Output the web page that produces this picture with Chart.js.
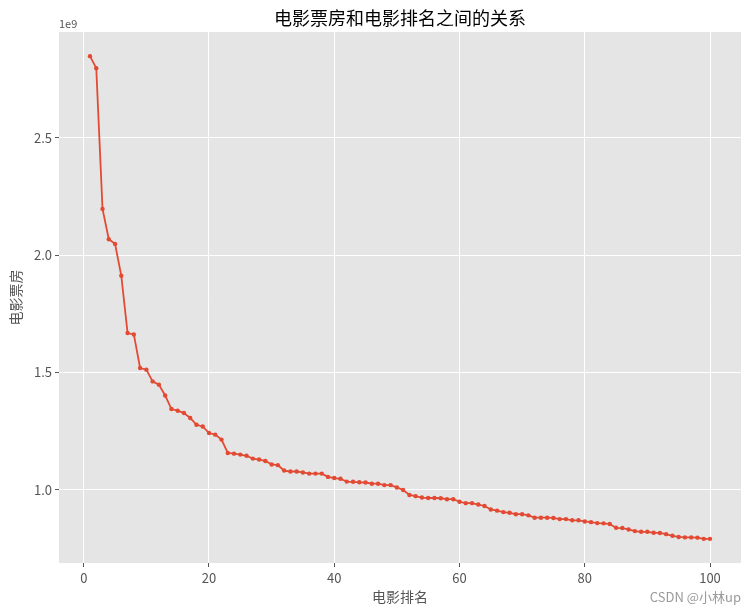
<!DOCTYPE html>
<html>
<head>
<meta charset="utf-8">
<script src="https://cdn.jsdelivr.net/npm/chart.js@4"></script>
<style>
  html, body { margin: 0; padding: 0; background: #fff; }
  #wrap { width: 748px; height: 612px; }
</style>
</head>
<body>
<div id="wrap"><canvas id="boxChart" width="748" height="612"></canvas></div>
<script>
// movie rank 1..100
const ranks = Array.from({ length: 100 }, (_, i) => i + 1);

// box office, in units of 1e9
const boxOffice = [
  2.848, 2.797, 2.197, 2.068, 2.048, 1.912, 1.668, 1.662, 1.519, 1.512,
  1.462, 1.448, 1.402, 1.344, 1.337, 1.327, 1.306, 1.277, 1.270, 1.242,
  1.235, 1.214, 1.157, 1.154, 1.150, 1.145, 1.133, 1.129, 1.123, 1.108,
  1.105, 1.082, 1.078, 1.078, 1.074, 1.069, 1.069, 1.069, 1.055, 1.050,
  1.047, 1.035, 1.034, 1.032, 1.031, 1.026, 1.026, 1.020, 1.020, 1.010,
  0.999, 0.978, 0.973, 0.967, 0.965, 0.965, 0.964, 0.960, 0.960, 0.949,
  0.943, 0.943, 0.937, 0.931, 0.916, 0.911, 0.905, 0.902, 0.896, 0.896,
  0.891, 0.881, 0.881, 0.881, 0.880, 0.875, 0.875, 0.870, 0.870, 0.865,
  0.862, 0.858, 0.857, 0.854, 0.838, 0.837, 0.831, 0.824, 0.821, 0.821,
  0.817, 0.816, 0.811, 0.804, 0.799, 0.797, 0.797, 0.796, 0.791, 0.791
];

const xTicks = [0, 20, 40, 60, 80, 100];
const yTicks = [1.0, 1.5, 2.0, 2.5];

const FONT = "'Noto Sans CJK SC', 'Noto Sans', sans-serif";

// gray panel + extra texts
const ggplotDecor = {
  id: "ggplotDecor",
  beforeDraw(chart) {
    const { ctx, chartArea: a } = chart;
    ctx.save();
    ctx.fillStyle = "#E5E5E5";
    ctx.fillRect(a.left, a.top, a.right - a.left, a.bottom - a.top);
    ctx.restore();
  },
  afterDraw(chart) {
    const { ctx, chartArea: a } = chart;
    const cx = (a.left + a.right) / 2;
    const cy = (a.top + a.bottom) / 2;
    ctx.save();
    ctx.textAlign = "center";
    ctx.textBaseline = "middle";

    ctx.fillStyle = "#000";
    ctx.font = "18px " + FONT;
    ctx.fillText("电影票房和电影排名之间的关系", cx, 18);

    ctx.fillStyle = "#555";
    ctx.font = "14px " + FONT;
    ctx.fillText("电影排名", cx, 597);

    ctx.save();
    ctx.translate(16, cy);
    ctx.rotate(-Math.PI / 2);
    ctx.fillText("电影票房", 0, 0);
    ctx.restore();

    ctx.font = "11px " + FONT;
    ctx.textAlign = "left";
    ctx.fillText("1e9", a.left, 24);

    ctx.fillStyle = "#999";
    ctx.font = "13px " + FONT;
    ctx.textAlign = "right";
    ctx.fillText("CSDN @小林up", 741, 597);
    ctx.restore();
  }
};

new Chart(document.getElementById("boxChart"), {
  type: "line",
  data: {
    labels: ranks,
    datasets: [{
      data: ranks.map((r, i) => ({ x: r, y: boxOffice[i] })),
      borderColor: "#E24A33",
      backgroundColor: "#E24A33",
      borderWidth: 1.8,
      pointRadius: 2.2,
      pointHoverRadius: 2.2,
      pointBorderWidth: 0,
      tension: 0
    }]
  },
  options: {
    responsive: false,
    animation: false,
    layout: { padding: { left: 0, right: 7, top: 32, bottom: 0 } },
    plugins: {
      legend: { display: false },
      tooltip: { enabled: false }
    },
    scales: {
      x: {
        type: "linear",
        min: -3.95,
        max: 104.95,
        afterBuildTicks: axis => { axis.ticks = xTicks.map(v => ({ value: v })); },
        afterFit: scale => { scale.height = 49; },
        grid: { color: "#fff", lineWidth: 1, tickColor: "#555", tickLength: 4 },
        border: { display: false },
        ticks: {
          color: "#555",
          font: { family: FONT, size: 13 },
          padding: 3,
          maxRotation: 0,
          callback: v => String(v)
        }
      },
      y: {
        type: "linear",
        min: 0.688,
        max: 2.951,
        afterBuildTicks: axis => { axis.ticks = yTicks.map(v => ({ value: v })); },
        afterFit: scale => { scale.width = 59; },
        grid: { color: "#fff", lineWidth: 1, tickColor: "#555", tickLength: 4 },
        border: { display: false },
        ticks: {
          color: "#555",
          font: { family: FONT, size: 13 },
          padding: 3,
          callback: v => v.toFixed(1)
        }
      }
    }
  },
  plugins: [ggplotDecor]
});
</script>
</body>
</html>
